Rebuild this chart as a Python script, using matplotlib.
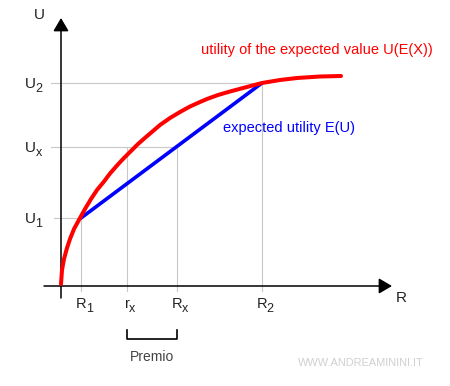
import matplotlib.pyplot as plt

plt.rcParams['font.family'] = ['Liberation Sans', 'DejaVu Sans']

# utility curve (R, U)
curve_r = [0, 1, 3, 6, 9, 13, 19, 24, 30, 36, 43, 49, 56, 62, 70, 77, 85, 92,
           99, 109, 119, 129, 139, 146, 157, 169, 184, 201, 219, 236, 259, 280]
curve_u = [2, 16, 27, 38, 47, 57, 68, 77, 87, 96, 104.5, 112.5, 120.5, 127, 135, 142, 149, 155,
           161, 168, 174, 179.5, 184, 187, 191, 194.5, 198.5, 203, 206, 208, 209.5, 210]

# key points on the axes
r_points = [20, 66, 116, 201]
r_main = ['R', 'r', 'R', 'R']
r_subs = ['1', 'x', 'x', '2']
u_points = [68, 139, 203]
u_subs = ['1', 'x', '2']

R1, rx, Rx, R2 = r_points
U1, Ux, U2 = u_points

fig = plt.figure(figsize=(4.5, 3.86), dpi=100)
ax = fig.add_axes([0, 0, 1, 1])
ax.set_xlim(-61, 389)
ax.set_ylim(-100, 286)
ax.axis('off')

grid = dict(color='#c8c8c8', lw=0.8, zorder=1)
# horizontal guides
ax.plot([-10, R2], [U2, U2], **grid)
ax.plot([-10, Rx], [Ux, Ux], **grid)
ax.plot([-7, R1], [U1, U1], **grid)
# vertical guides
ax.plot([R1, R1], [-5, U1], **grid)
ax.plot([rx, rx], [-5, Ux], **grid)
ax.plot([Rx, Rx], [-5, Ux], **grid)
ax.plot([R2, R2], [-5, U2], **grid)

# axes with arrows
arrow = dict(arrowstyle='-|>,head_length=0.8,head_width=0.47', color='black',
             lw=1.1, mutation_scale=10, shrinkA=0, shrinkB=0)
ax.annotate('', xy=(0, 268), xytext=(0, -12), arrowprops=arrow, zorder=2)
ax.annotate('', xy=(331, 0), xytext=(-17, 0), arrowprops=arrow, zorder=2)

# curves
ax.plot(curve_r, curve_u, color='#ff0000', lw=2.9, solid_capstyle='round',
        solid_joinstyle='round', zorder=4)
ax.plot([R1, R2], [U1, U2], color='#0000ff', lw=2.6, solid_capstyle='round', zorder=3)

txt = '#222222'


def sub_label(x, y, main, sub, ha, size, sub_size):
    t = ax.text(x, y, main, fontsize=size, color=txt, ha=ha, va='baseline')
    ax.annotate(sub, xy=(1, 0), xycoords=t, xytext=(-0.4, -3.0),
                textcoords='offset points', fontsize=sub_size, color=txt,
                ha='left', va='bottom')


ax.text(-22, 271, 'U', fontsize=11, color=txt, ha='center', va='center')
ax.text(340, -12, 'R', fontsize=11, color=txt, ha='center', va='center')

for u, s in zip(u_points, u_subs):
    sub_label(-25, u - 5, 'U', s, 'right', 11, 9)
for r, m, s in zip(r_points, r_main, r_subs):
    sub_label(r, -22, m, s, 'center', 10.5, 9)

# premium bracket
ax.plot([rx, rx, Rx, Rx], [-44, -53, -53, -44], color='black', lw=1.2)
ax.text((rx + Rx) / 2, -71, 'Premio', fontsize=10, color='#444444', ha='center', va='center')

ax.text(140, 236, 'utility of the expected value U(E(X))', fontsize=10.5,
        color='#ff0000', ha='left', va='center')
ax.text(162, 158, 'expected utility E(U)', fontsize=10.5,
        color='#0000ff', ha='left', va='center')

ax.text(237, -77, 'WWW.ANDREAMININI.IT', fontsize=7.9, color='#d0d0d0',
        ha='left', va='center')

fig.savefig('out.png', dpi=100)
